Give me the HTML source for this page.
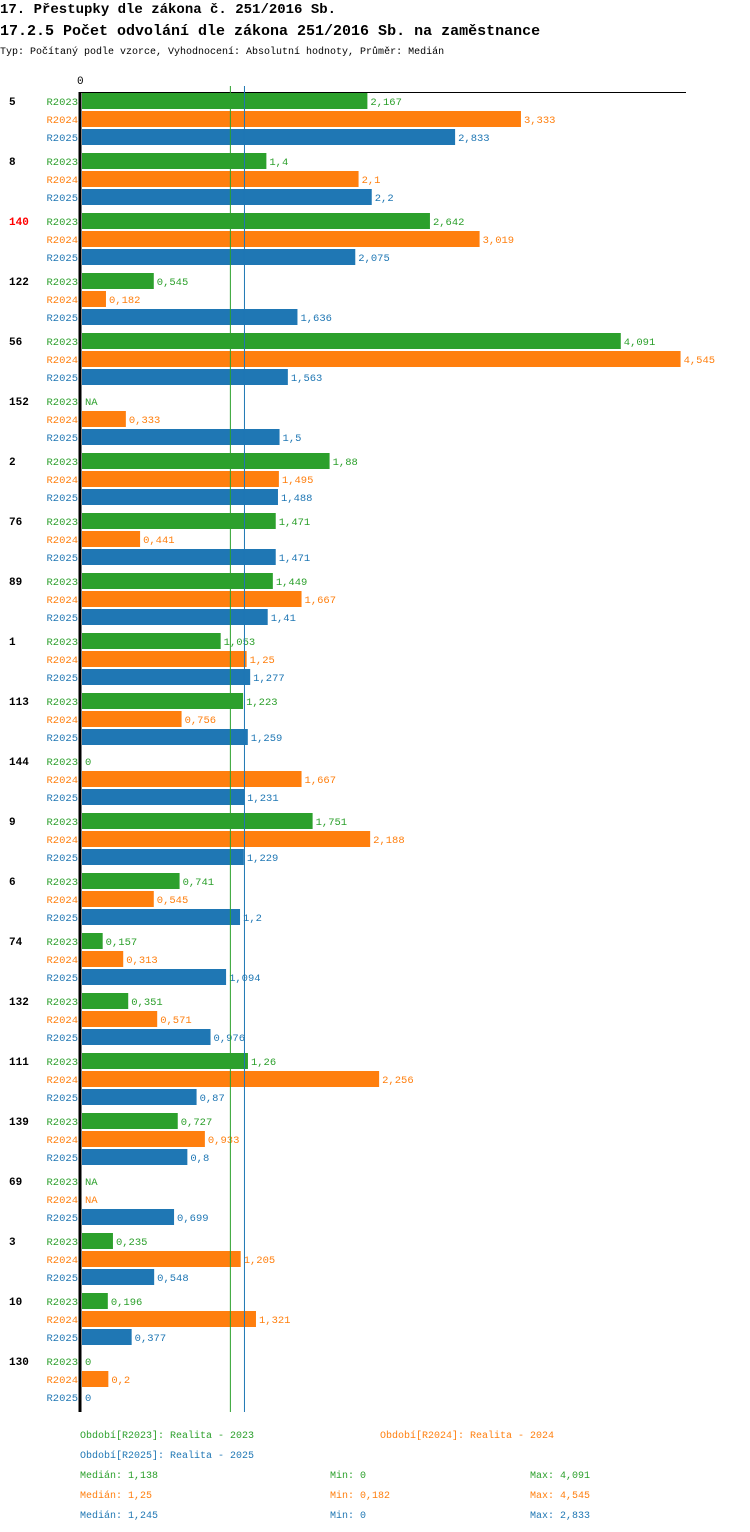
<!DOCTYPE html>
<html><head><meta charset="utf-8"><style>
body{margin:0;background:#fff;width:750px;height:1532px;overflow:hidden}
svg{display:block}
text{font-family:"Liberation Mono",monospace;font-size:11px}
.t{font-size:15px;font-weight:bold}
</style></head><body>
<svg id="c" width="750" height="1532">
<text class="t" x="0" y="13" style="font-size:14px">17. Přestupky dle zákona č. 251/2016 Sb.</text>
<text class="t" x="0" y="35">17.2.5 Počet odvolání dle zákona 251/2016 Sb. na zaměstnance</text>
<text x="0" y="54" style="font-size:10px">Typ: Počítaný podle vzorce, Vyhodnocení: Absolutní hodnoty, Průměr: Medián</text>
<text x="77" y="84">0</text>
<line x1="81" y1="92.5" x2="686" y2="92.5" stroke="#000"/>
<g id="bars"></g>
<line x1="80" y1="92" x2="80" y2="1412" stroke="#000" stroke-width="3"/>
<g id="legend"></g>
</svg>
<script>
const categories=["5","8","140","122","56","152","2","76","89","1","113","144","9","6","74","132","111","139","69","3","10","130"];
const r2023=[2.167,1.4,2.642,0.545,4.091,null,1.88,1.471,1.449,1.053,1.223,0,1.751,0.741,0.157,0.351,1.26,0.727,null,0.235,0.196,0];
const r2024=[3.333,2.1,3.019,0.182,4.545,0.333,1.495,0.441,1.667,1.25,0.756,1.667,2.188,0.545,0.313,0.571,2.256,0.933,null,1.205,1.321,0.2];
const r2025=[2.833,2.2,2.075,1.636,1.563,1.5,1.488,1.471,1.41,1.277,1.259,1.231,1.229,1.2,1.094,0.976,0.87,0.8,0.699,0.548,0.377,0];
const seriesNames=["R2023","R2024","R2025"];
const medians=[1.138,1.25,1.245];
const mins=["0","0,182","0"];
const maxs=["4,091","4,545","2,833"];
const highlighted=["140"];
const colors=["#2ca02c","#ff7f0e","#1f77b4"];
const NS="http://www.w3.org/2000/svg";
const x0=82,k=131.7;
const xs=v=>x0+v*k;
const fmt=v=>String(v).replace('.',',');
const g=document.getElementById('bars');
function el(tag,attrs,txt){const e=document.createElementNS(NS,tag);for(const a in attrs)e.setAttribute(a,attrs[a]);if(txt!==undefined)e.textContent=txt;return e;}
const series=[r2023,r2024,r2025];
categories.forEach((c,i)=>{
  const gy=93+60*i;
  const t=el('text',{x:9,y:gy+12,'font-weight':'bold',fill:highlighted.includes(c)?'#ff0000':'#000'},c);
  
  
  g.appendChild(t);
  series.forEach((s,j)=>{
    const y=gy+18*j;
    const lab=el('text',{x:78,y:y+12,'text-anchor':'end',fill:colors[j],style:'font-size:10.5px'},seriesNames[j]);
    
    
    g.appendChild(lab);
    const v=s[i];
    let end=x0;
    if(v!==null&&v>0){
      const r=el('rect',{x:x0,y:y,width:xs(v)-x0,height:16,fill:colors[j]});
      
      
      g.appendChild(r);
      end=xs(v);
    }
    const vt=el('text',{x:end+3,y:y+12,fill:colors[j],style:'font-size:10.5px'},v===null?'NA':fmt(v));
    
    
    g.appendChild(vt);
  });
});
[0,2].forEach(j=>{
  const l=el('line',{x1:xs(medians[j])-1.5,x2:xs(medians[j])-1.5,y1:86,y2:1412,stroke:colors[j]});
  
  
  g.appendChild(l);
});
const lg=document.getElementById('legend');
const legTexts=[["Období[R2023]: Realita - 2023",80,1438,0],["Období[R2024]: Realita - 2024",380,1438,1],["Období[R2025]: Realita - 2025",80,1458,2]];
legTexts.forEach(a=>{
  const t=el('text',{x:a[1],y:a[2],fill:colors[a[3]],style:'font-size:10px'},a[0]);
  
  
  lg.appendChild(t);
});
[0,1,2].forEach(j=>{
  const y=1478+20*j;
  const a=el('text',{x:80,y:y,fill:colors[j],style:'font-size:10px'},'Medián: '+fmt(medians[j]));
  
  
  lg.appendChild(a);
  const b=el('text',{x:330,y:y,fill:colors[j],style:'font-size:10px'},'Min: '+mins[j]);
  
  
  lg.appendChild(b);
  const c=el('text',{x:530,y:y,fill:colors[j],style:'font-size:10px'},'Max: '+maxs[j]);
  
  
  lg.appendChild(c);
});
</script>
</body></html>
